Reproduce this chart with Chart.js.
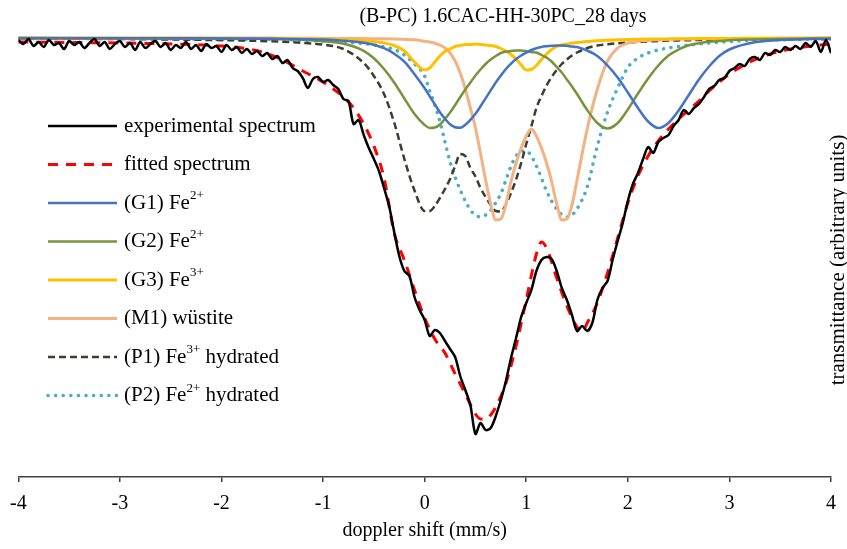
<!DOCTYPE html>
<html>
<head>
<meta charset="utf-8">
<title>(B-PC) 1.6CAC-HH-30PC_28 days</title>
<script src="https://cdn.jsdelivr.net/npm/chart.js@4.4.1/dist/chart.umd.min.js"></script>
<style>
	html, body { margin: 0; padding: 0; background: #fff; }
	#wrap { width: 847px; height: 549px; }
</style>
</head>
<body>
<div id="wrap"><canvas id="chart" width="847" height="549"></canvas></div>
<script>
// Texts
const chartTitle = "(B-PC) 1.6CAC-HH-30PC_28 days";
const xTitle = "doppler shift (mm/s)";
const yTitle = "transmittance (arbitrary units)";
const xTicks = [-4, -3, -2, -1, 0, 1, 2, 3, 4];

// Experimental spectrum (mm/s, transmittance in arbitrary units)
const expShift = [
	-4, -3.95, -3.9, -3.85, -3.8, -3.75, -3.7, -3.65, -3.6, -3.55, -3.5, -3.45, -3.4, -3.35, -3.3, -3.25, -3.2, -3.15, -3.1, -3.05,
	-3, -2.95, -2.9, -2.85, -2.8, -2.75, -2.7, -2.65, -2.6, -2.55, -2.5, -2.45, -2.4, -2.35, -2.3, -2.25, -2.2, -2.15, -2.1, -2.05,
	-2, -1.95, -1.9, -1.85, -1.8, -1.75, -1.7, -1.65, -1.6, -1.55, -1.5, -1.45, -1.4, -1.35, -1.3, -1.25, -1.2, -1.15, -1.1, -1.05,
	-1, -0.95, -0.9, -0.85, -0.8, -0.75, -0.7, -0.65, -0.6, -0.55, -0.5, -0.45, -0.4, -0.35, -0.3, -0.25, -0.2, -0.15, -0.1, -0.05,
	0, 0.05, 0.1, 0.15, 0.2, 0.25, 0.3, 0.35, 0.4, 0.45, 0.5, 0.55, 0.6, 0.65, 0.7, 0.75, 0.8, 0.85, 0.9, 0.95,
	1, 1.05, 1.1, 1.15, 1.2, 1.25, 1.3, 1.35, 1.4, 1.45, 1.5, 1.55, 1.6, 1.65, 1.7, 1.75, 1.8, 1.85, 1.9, 1.95,
	2, 2.05, 2.1, 2.15, 2.2, 2.25, 2.3, 2.35, 2.4, 2.45, 2.5, 2.55, 2.6, 2.65, 2.7, 2.75, 2.8, 2.85, 2.9, 2.95,
	3, 3.05, 3.1, 3.15, 3.2, 3.25, 3.3, 3.35, 3.4, 3.45, 3.5, 3.55, 3.6, 3.65, 3.7, 3.75, 3.8, 3.85, 3.9, 3.95,
	4
];
const expT = [
	99.8, 99.4, 99.9, 99.2, 99.6, 99.1, 99.8, 99.3, 99.5, 98.9, 99.7, 99.3, 99.6, 99.0, 99.5, 99.9, 99.2, 99.6, 98.9, 99.4,
	99.7, 99.1, 99.5, 98.8, 99.6, 99.0, 99.4, 99.7, 99.1, 99.5, 98.8, 99.3, 99.0, 99.6, 98.9, 99.3, 98.7, 99.4, 99.0, 99.2,
	98.6, 99.3, 98.8, 99.1, 98.5, 98.9, 98.4, 98.7, 98.2, 98.5, 97.9, 98.2, 97.5, 97.8, 97.0, 96.7, 96.0, 95.0, 95.9, 96.1,
	95.6, 95.8, 95.3, 94.9, 93.9, 93.7, 91.4, 91.8, 90.3, 89.0, 87.9, 86.7, 85.0, 83.2, 80.6, 78.2, 76.7, 76.2, 74.1, 72.8,
	71.8, 70.2, 70.8, 70.5, 69.7, 68.9, 68.1, 66.2, 64.8, 63.3, 60.4, 61.5, 60.8, 61.0, 62.2, 63.8, 65.7, 68.0, 70.0, 72.1,
	73.5, 74.8, 76.7, 77.8, 78.1, 77.9, 76.7, 75.0, 73.8, 72.3, 70.7, 71.2, 70.7, 71.5, 73.8, 75.0, 75.7, 77.8, 79.7, 81.5,
	83.7, 85.4, 86.5, 87.9, 89.1, 88.5, 89.6, 90.0, 90.3, 91.2, 91.8, 92.8, 92.4, 93.0, 93.4, 94.1, 94.9, 95.2, 95.8, 96.0,
	96.7, 97.0, 97.4, 97.2, 97.9, 98.1, 97.8, 98.5, 98.3, 98.8, 98.6, 99.1, 98.8, 99.2, 98.9, 99.5, 99.1, 99.7, 98.6, 99.8,
	98.5
];

// Fitted spectrum
const fitShift = [-4, -3.5, -3, -2.5, -2, -1.8, -1.6, -1.4, -1.2, -1.0, -0.8, -0.7, -0.6, -0.5, -0.4, -0.3, -0.2, -0.1,
	0, 0.1, 0.2, 0.3, 0.4, 0.5, 0.55, 0.6, 0.65, 0.7, 0.8, 0.9, 1.0, 1.1, 1.15, 1.2, 1.3, 1.4, 1.5, 1.55, 1.6, 1.7, 1.8, 1.9,
	2.0, 2.1, 2.2, 2.3, 2.4, 2.5, 2.6, 2.7, 2.8, 2.9, 3.0, 3.2, 3.4, 3.6, 3.8, 4.0];
const fitT = [99.6, 99.55, 99.5, 99.4, 99.2, 99.0, 98.6, 97.8, 96.7, 95.6, 94.1, 93.0, 91.4, 89.2, 86.0, 80.5, 77.8, 74.8,
	72.0, 69.9, 68.5, 66.4, 64.4, 62.4, 61.9, 61.9, 62.3, 63.1, 65.5, 69.2, 73.8, 78.4, 79.6, 79.0, 76.0, 73.2, 71.1, 70.6, 71.5, 73.5, 76.5, 80.0,
	83.5, 86.2, 88.2, 89.7, 90.9, 91.9, 92.8, 93.7, 94.7, 95.6, 96.4, 97.6, 98.4, 98.9, 99.2, 99.4];

// Sub-spectra, all on one velocity grid
const compShift = [-4, -2.5, -1.5, -1.2, -1.0, -0.8, -0.6, -0.5, -0.4, -0.3, -0.2, -0.1,
	0, 0.05, 0.1, 0.15, 0.2, 0.25, 0.3, 0.35, 0.4, 0.45, 0.5, 0.55, 0.6, 0.65, 0.7, 0.75, 0.8, 0.85, 0.9, 0.95,
	1.0, 1.05, 1.1, 1.15, 1.2, 1.25, 1.3, 1.35, 1.4, 1.45, 1.5,
	1.6, 1.7, 1.8, 1.9, 2.0, 2.1, 2.2, 2.3, 2.4, 2.5, 2.6, 2.7, 2.8, 2.9, 3.0, 3.2, 3.5, 4];
const g1T = [99.97, 99.95, 99.92, 99.88, 99.84, 99.73, 99.53, 99.33, 98.98, 98.43, 97.63, 96.38,
	94.97, 94.17, 93.37, 92.57, 91.92, 91.37, 91.07, 91.02, 91.32, 91.82, 92.42, 93.17, 93.96, 94.76, 95.55, 96.25, 96.9, 97.44, 97.9, 98.25,
	98.53, 98.8, 98.98, 99.11, 99.18, 99.23, 99.26, 99.26, 99.22, 99.15, 99.1,
	98.75, 98.2, 97.25, 96.05, 94.55, 93.0, 91.65, 91.0, 91.5, 92.75, 94.3, 95.85, 97.15, 98.2, 98.85, 99.48, 99.8, 99.93];
const g2T = [99.99, 99.97, 99.9, 99.82, 99.68, 99.42, 98.72, 97.97, 96.9, 95.55, 93.95, 92.4,
	91.3, 91.0, 91.05, 91.35, 91.9, 92.55, 93.3, 94.1, 94.85, 95.55, 96.25, 96.85, 97.4, 97.85, 98.2, 98.5, 98.65, 98.7, 98.75, 98.75,
	98.7, 98.6, 98.55, 98.3, 98.05, 97.65, 97.1, 96.55, 95.85, 95.15, 94.4,
	92.8, 91.5, 90.95, 91.5, 92.85, 94.45, 95.95, 97.25, 98.25, 98.85, 99.27, 99.48, 99.63, 99.7, 99.78, 99.85, 99.91, 99.96];
const g3T = [99.99, 99.98, 99.95, 99.92, 99.89, 99.85, 99.75, 99.66, 99.5, 99.25, 98.7, 97.6,
	96.8, 97.0, 97.6, 98.2, 98.65, 98.9, 99.15, 99.25, 99.35, 99.35, 99.4, 99.35, 99.3, 99.25, 99.15, 98.95, 98.7, 98.35, 97.9, 97.3,
	96.8, 96.85, 97.25, 97.85, 98.4, 98.85, 99.15, 99.3, 99.4, 99.5, 99.55,
	99.65, 99.73, 99.78, 99.82, 99.85, 99.87, 99.89, 99.9, 99.91, 99.92, 99.93, 99.94, 99.95, 99.95, 99.96, 99.97, 99.98, 99.99];
const m1T = [100, 100, 99.99, 99.97, 99.96, 99.95, 99.94, 99.93, 99.92, 99.9, 99.87, 99.82,
	99.67, 99.6, 99.48, 99.3, 99.0, 98.5, 97.7, 96.5, 94.9, 93.0, 91.0, 88.45, 85.8, 83.4, 81.8, 81.9, 83.4, 85.65, 87.5, 89.0,
	90.2, 90.9, 90.2, 89.0, 87.5, 85.65, 83.4, 81.8, 81.9, 83.3, 85.8,
	90.9, 94.9, 97.7, 99.0, 99.5, 99.68, 99.76, 99.82, 99.87, 99.9, 99.91, 99.92, 99.93, 99.94, 99.95, 99.96, 99.97, 99.99];
const p1T = [99.95, 99.85, 99.67, 99.52, 99.33, 98.9, 97.5, 96.2, 94.4, 91.55, 87.9, 84.75,
	82.7, 82.7, 83.2, 84.0, 84.9, 85.9, 87.2, 88.4, 88.2, 87.0, 86.15, 85.0, 84.1, 83.3, 82.7, 82.65, 83.35, 84.5, 85.85, 87.5,
	89.4, 91.15, 93.0, 94.2, 95.25, 96.1, 96.8, 97.4, 97.85, 98.25, 98.55,
	99.0, 99.25, 99.37, 99.47, 99.55, 99.61, 99.66, 99.7, 99.74, 99.76, 99.78, 99.8, 99.82, 99.83, 99.85, 99.87, 99.9, 99.94];
const p2T = [99.95, 99.92, 99.84, 99.77, 99.7, 99.6, 99.44, 99.3, 99.1, 98.85, 98.3, 97.4,
	96.2, 94.7, 93.3, 91.65, 89.6, 87.6, 86.1, 84.8, 83.7, 82.8, 82.3, 82.1, 82.3, 82.75, 83.55, 84.45, 85.8, 87.2, 88.2, 88.7,
	88.7, 88.2, 87.2, 86.0, 84.7, 83.7, 82.9, 82.35, 82.1, 82.3, 82.9,
	85.1, 89.2, 92.6, 95.0, 97.05, 98.0, 98.5, 98.8, 99.0, 99.15, 99.3, 99.4, 99.5, 99.58, 99.65, 99.74, 99.82, 99.9];

const yRange = [56.1, 101.0];

const serif = "'Liberation Serif', 'Times New Roman', serif";

function toPoints(xs, ys) {
	const n = Math.min(xs.length, ys.length);
	const pts = [];
	for (let i = 0; i < n; i++) pts.push({ x: xs[i], y: ys[i] });
	return pts;
}

// Legend rows: each piece is [text, isSuperscript]
const legendRows = [
	[["experimental spectrum", false]],
	[["fitted spectrum", false]],
	[["(G1) Fe", false], ["2+", true]],
	[["(G2) Fe", false], ["2+", true]],
	[["(G3) Fe", false], ["3+", true]],
	[["(M1) wüstite", false]],
	[["(P1) Fe", false], ["3+", true], [" hydrated", false]],
	[["(P2) Fe", false], ["2+", true], [" hydrated", false]]
];

const decorPlugin = {
	id: "decor",
	afterDatasetsDraw(chart) {
		const ctx = chart.ctx;
		ctx.save();
		ctx.fillStyle = "#000";

		// title
		ctx.textAlign = "center";
		ctx.textBaseline = "middle";
		ctx.font = "20px " + serif;
		ctx.fillText(chartTitle, 503, 17);

		// right-hand axis title, reading upwards
		ctx.save();
		ctx.translate(838, 260);
		ctx.rotate(-Math.PI / 2);
		ctx.font = "21px " + serif;
		ctx.fillText(yTitle, 0, 0);
		ctx.restore();

		// legend
		ctx.textAlign = "left";
		legendRows.forEach((row, i) => {
			const ds = chart.data.datasets[i];
			const y = 126 + i * 38.5;
			ctx.beginPath();
			ctx.strokeStyle = ds.borderColor;
			ctx.lineWidth = ds.borderWidth;
			ctx.lineCap = ds.borderCapStyle || "butt";
			ctx.setLineDash(ds.borderDash || []);
			ctx.moveTo(48, y);
			ctx.lineTo(117, y);
			ctx.stroke();
			ctx.setLineDash([]);

			let x = 124;
			row.forEach(([text, sup]) => {
				ctx.font = (sup ? "13px " : "21px ") + serif;
				ctx.fillText(text, x, sup ? y - 7 : y);
				x += ctx.measureText(text).width;
			});
		});
		ctx.restore();
	}
};

const lineBase = { pointRadius: 0, fill: false };

new Chart(document.getElementById("chart"), {
	type: "line",
	data: {
		datasets: [
			{ ...lineBase, label: "experimental spectrum", data: toPoints(expShift, expT), borderColor: "#000000", borderWidth: 2.5, tension: 0.3 },
			{ ...lineBase, label: "fitted spectrum", data: toPoints(fitShift, fitT), borderColor: "#ff0000", borderWidth: 3, borderDash: [10, 8], cubicInterpolationMode: "monotone" },
			{ ...lineBase, label: "(G1) Fe²⁺", data: toPoints(compShift, g1T), borderColor: "#4472c4", borderWidth: 2.5, cubicInterpolationMode: "monotone" },
			{ ...lineBase, label: "(G2) Fe²⁺", data: toPoints(compShift, g2T), borderColor: "#77933c", borderWidth: 2.5, cubicInterpolationMode: "monotone" },
			{ ...lineBase, label: "(G3) Fe³⁺", data: toPoints(compShift, g3T), borderColor: "#ffc000", borderWidth: 3, cubicInterpolationMode: "monotone" },
			{ ...lineBase, label: "(M1) wüstite", data: toPoints(compShift, m1T), borderColor: "#f4b183", borderWidth: 3, cubicInterpolationMode: "monotone" },
			{ ...lineBase, label: "(P1) Fe³⁺ hydrated", data: toPoints(compShift, p1T), borderColor: "#3d3d30", borderWidth: 2.5, borderDash: [7, 4], cubicInterpolationMode: "monotone" },
			{ ...lineBase, label: "(P2) Fe²⁺ hydrated", data: toPoints(compShift, p2T), borderColor: "#4bacc6", borderWidth: 3.5, borderDash: [0.1, 7.5], borderCapStyle: "round", cubicInterpolationMode: "monotone" }
		]
	},
	options: {
		responsive: false,
		animation: false,
		events: [],
		layout: { padding: { left: 15, right: 16, top: 28, bottom: 0 } },
		plugins: {
			legend: { display: false },
			tooltip: { enabled: false },
			title: { display: false }
		},
		scales: {
			x: {
				type: "linear",
				min: xTicks[0],
				max: xTicks[xTicks.length - 1],
				afterBuildTicks: (scale) => { scale.ticks = xTicks.map((v) => ({ value: v })); },
				afterFit: (scale) => { scale.height = 72; },
				ticks: { color: "#000", font: { family: serif, size: 20 }, padding: 10, maxRotation: 0 },
				grid: { display: true, drawOnChartArea: false, drawTicks: true, tickLength: 5, color: "#404040", lineWidth: 1.5 },
				border: { display: true, color: "#404040", width: 1.5 },
				title: { display: true, text: xTitle, color: "#000", font: { family: serif, size: 20 }, padding: { top: 0, bottom: 6 } }
			},
			y: { display: false, min: yRange[0], max: yRange[1] }
		}
	},
	plugins: [decorPlugin]
});
</script>
</body>
</html>
